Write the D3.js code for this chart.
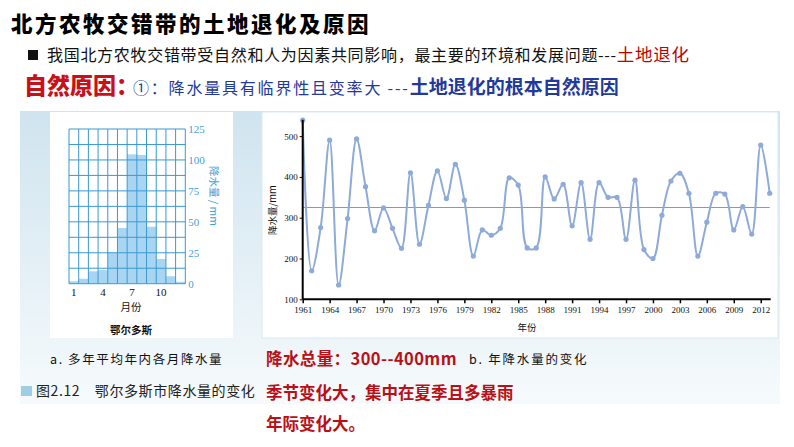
<!DOCTYPE html>
<html><head><meta charset="utf-8">
<script src="https://cdn.jsdelivr.net/npm/d3@7"></script>
<style>
html,body{margin:0;padding:0;background:#fff;}
svg{display:block;}
</style></head>
<body><svg id="c" width="794" height="447"></svg>
<script>
// ---- data ----
const months = [1,2,3,4,5,6,7,8,9,10,11,12];
const monthlyRain = [2,4,10,11,25,45,104.5,104,46,20,6,1.5];
const monthTickLabels = [1,4,7,10];
const monthAxisTicks = [0,25,50,75,100,125];

const years = d3.range(1961, 2014);
const annualRain = [539,170,276,490,135,298,493,376,268,324,274,225,410,235,330,415,347,431,343,206,
  270,257,274,398,380,226,226,400,346,382,280,386,247,386,350,350,247,392,222,200,
  306,390,409,360,206,289,360,358,270,327,260,478,360];
const meanRain = 325;
const yearTicks = d3.range(1961, 2013, 3);
const rainTicks = [100,200,300,400,500];

const svg = d3.select("#c");
const defs = svg.append("defs");
const g1 = defs.append("linearGradient").attr("id","pg").attr("x1",0).attr("y1",0).attr("x2",0).attr("y2",1);
g1.append("stop").attr("offset","0%").attr("stop-color","#cfe4ef");
g1.append("stop").attr("offset","100%").attr("stop-color","#f6fafc");

const CJK = "'Noto Sans CJK SC','Noto Sans',sans-serif";
const SERIF = "'Liberation Serif','DejaVu Serif',serif";

// ---- header texts ----
svg.append("text").attr("x",11).attr("y",32).attr("font-family",CJK).attr("font-weight",900)
  .attr("font-size",21.5).attr("letter-spacing",2.5).attr("fill","#000").text("北方农牧交错带的土地退化及原因");

svg.append("rect").attr("x",28).attr("y",50).attr("width",10).attr("height",10).attr("fill","#111");
const l2 = svg.append("text").attr("x",47).attr("y",61).attr("font-family",CJK).attr("font-size",16)
  .attr("letter-spacing",0.7).attr("fill","#111");
l2.append("tspan").text("我国北方农牧交错带受自然和人为因素共同影响，最主要的环境和发展问题---");
l2.append("tspan").attr("fill","#c00000").attr("font-size",17.5).text("土地退化");

const l3 = svg.append("text").attr("x",24).attr("y",94).attr("font-family",CJK);
l3.append("tspan").attr("fill","#c8101a").attr("font-weight",900).attr("font-size",23).text("自然原因：");
l3.append("tspan").attr("fill","#1f3a9a").attr("font-size",16).attr("letter-spacing",1.8).attr("dx",-6).text("①：降水量具有临界性且变率大 ---");
l3.append("tspan").attr("fill","#1f3a9a").attr("font-weight",700).attr("font-size",19).attr("letter-spacing",0).text("土地退化的根本自然原因");

// ---- panel ----
svg.append("rect").attr("x",20).attr("y",111).attr("width",760).attr("height",293).attr("fill","url(#pg)");
svg.append("rect").attr("x",50).attr("y",112).attr("width",183).attr("height",226).attr("fill","#fff");
svg.append("rect").attr("x",262).attr("y",112).attr("width",516).attr("height",226).attr("fill","#fff")
  .attr("stroke","#dbe9f1").attr("stroke-width",1);

// ---- left bar chart ----
const xb = d3.scaleBand().domain(months).range([69,185.3]).padding(0);
const yb = d3.scaleLinear().domain([0,125]).range([283.7,129]);
const gridBlue = "#3a98d4";
svg.append("g").selectAll("rect").data(months).join("rect")
  .attr("x",d=>xb(d)).attr("width",xb.bandwidth())
  .attr("y",(d,i)=>yb(monthlyRain[i])).attr("height",(d,i)=>yb(0)-yb(monthlyRain[i]))
  .attr("fill","#a8d6f2");
const gridG = svg.append("g").attr("stroke",gridBlue).attr("stroke-width",1).attr("fill","none");
gridG.selectAll("line.h").data(d3.range(0,125.1,12.5)).join("line").attr("class","h")
  .attr("x1",xb.range()[0]).attr("x2",xb.range()[1]).attr("y1",d=>yb(d)).attr("y2",d=>yb(d));
gridG.selectAll("line.v").data(months.map(m=>xb(m)).concat([xb.range()[1]])).join("line").attr("class","v")
  .attr("x1",d=>d).attr("x2",d=>d).attr("y1",yb(0)).attr("y2",yb(125));
const ayb = svg.append("g").attr("transform",`translate(${xb.range()[1]},0)`)
  .call(d3.axisRight(yb).tickValues(monthAxisTicks).tickSize(0).tickPadding(3));
ayb.select(".domain").remove();
ayb.selectAll("text").attr("font-family",SERIF).attr("font-size",11).attr("fill","#3f9fd6");
svg.append("g").selectAll("text").data(monthTickLabels).join("text")
  .attr("x",d=>xb(d)+xb.bandwidth()/2).attr("y",296).attr("text-anchor","middle")
  .attr("font-family",SERIF).attr("font-size",11).attr("fill","#111").text(d=>d);
svg.append("text").attr("x",131).attr("y",311).attr("text-anchor","middle").attr("font-family",CJK)
  .attr("font-size",10.5).attr("fill","#111").text("月份");
svg.append("text").attr("x",131).attr("y",334).attr("text-anchor","middle").attr("font-family",CJK)
  .attr("font-weight",700).attr("font-size",10.5).attr("fill","#111").text("鄂尔多斯");
svg.append("text").attr("transform","translate(210,196) rotate(90)").attr("text-anchor","middle")
  .attr("font-family",CJK).attr("font-size",10.5).attr("fill","#3f9fd6").text("降水量 / mm");

// ---- right line chart ----
const xl = d3.scaleLinear().domain([1961,2013]).range([302.7,769.7]);
const yl = d3.scaleLinear().domain([100,540]).range([299.3,119.8]);
const lineCol = "#8eaad9";
svg.append("line").attr("x1",xl(1961)).attr("x2",xl(2013)).attr("y1",yl(meanRain)).attr("y2",yl(meanRain))
  .attr("stroke","#7d9cc4").attr("stroke-width",1);
const line = d3.line().x((d,i)=>xl(years[i])).y(d=>yl(d)).curve(d3.curveCatmullRom.alpha(0.5));
svg.append("path").datum(annualRain).attr("d",line).attr("fill","none").attr("stroke",lineCol).attr("stroke-width",2);
svg.append("g").selectAll("circle").data(annualRain).join("circle")
  .attr("cx",(d,i)=>xl(years[i])).attr("cy",d=>yl(d)).attr("r",2.6).attr("fill",lineCol);

const axl = svg.append("g").attr("transform",`translate(0,${yl(100)})`)
  .call(d3.axisBottom(xl).tickValues(yearTicks).tickFormat(d3.format("d")).tickSize(4).tickSizeOuter(0));
axl.select(".domain").attr("stroke","#000").attr("stroke-width",2).attr("d",`M${xl(1961)},0H${xl(2013)+1}`);
axl.selectAll(".tick line").attr("stroke","#000").attr("stroke-width",1.5);
axl.selectAll("text").attr("font-family",SERIF).attr("font-size",9).attr("fill","#111");
const ayl = svg.append("g").attr("transform",`translate(${xl(1961)},0)`)
  .call(d3.axisLeft(yl).tickValues(rainTicks).tickSize(3).tickSizeOuter(0).tickPadding(2));
ayl.select(".domain").attr("stroke","#000").attr("stroke-width",2).attr("d",`M0,${yl(540)}V${yl(100)}`);
ayl.selectAll(".tick line").attr("stroke","#000");
ayl.selectAll("text").attr("font-family",SERIF).attr("font-size",9).attr("fill","#111");
svg.append("text").attr("transform","translate(276,210) rotate(-90)").attr("text-anchor","middle")
  .attr("font-family",CJK).attr("font-size",9.5).attr("fill","#111").text("降水量/mm");
svg.append("text").attr("x",527).attr("y",331).attr("text-anchor","middle")
  .attr("font-family",CJK).attr("font-size",9.5).attr("fill","#111").text("年份");

// ---- captions ----
svg.append("text").attr("x",50).attr("y",364).attr("font-family",CJK).attr("font-size",12.5).attr("letter-spacing",1.6)
  .attr("fill","#111").text("a. 多年平均年内各月降水量");
svg.append("text").attr("x",469).attr("y",364).attr("font-family",CJK).attr("font-size",12.5).attr("letter-spacing",1.8)
  .attr("fill","#111").text("b. 年降水量的变化");
svg.append("rect").attr("x",21).attr("y",386).attr("width",11).attr("height",10).attr("fill","#9fcde6");
svg.append("text").attr("x",36).attr("y",396).attr("font-family",CJK).attr("font-size",14).attr("letter-spacing",0.6)
  .attr("fill","#222").text("图2.12　鄂尔多斯市降水量的变化");

const red = "#b90f16";
svg.append("text").attr("x",266).attr("y",365).attr("font-family",CJK).attr("font-weight",700).attr("font-size",16.5)
  .attr("letter-spacing",0.4).attr("fill",red).text("降水总量：300--400mm");
svg.append("text").attr("x",266).attr("y",399).attr("font-family",CJK).attr("font-weight",700).attr("font-size",16.5)
  .attr("fill",red).text("季节变化大，集中在夏季且多暴雨");
svg.append("text").attr("x",266).attr("y",430).attr("font-family",CJK).attr("font-weight",700).attr("font-size",16.5)
  .attr("fill",red).text("年际变化大。");
</script></body></html>
